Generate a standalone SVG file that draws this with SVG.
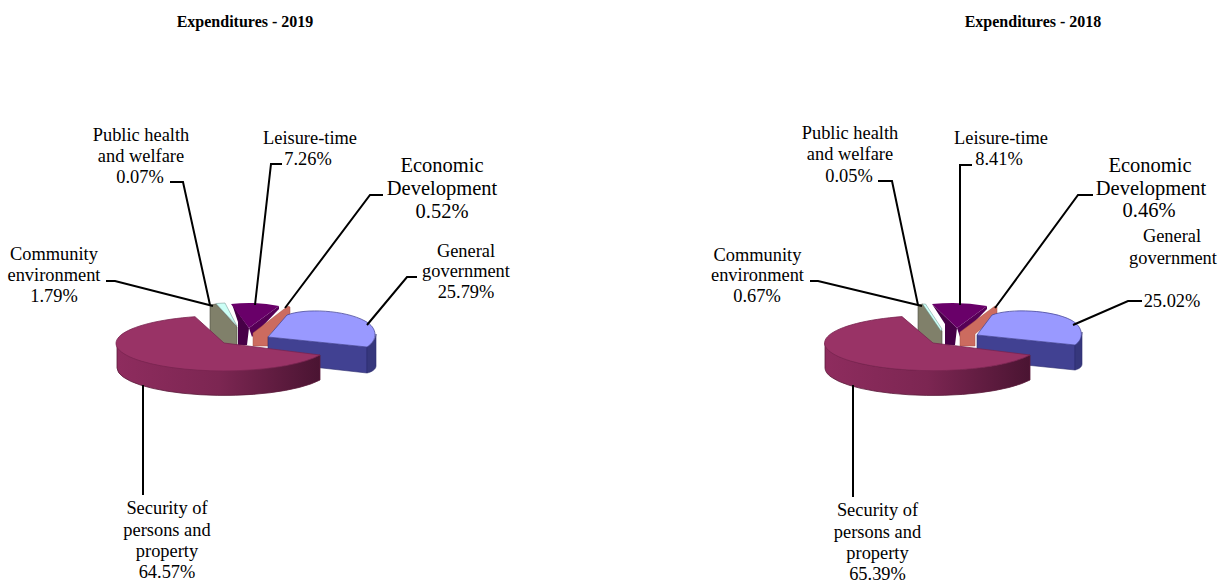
<svg xmlns="http://www.w3.org/2000/svg" width="1230" height="583" viewBox="0 0 1230 583">
<style>
text{font-family:'Liberation Serif','DejaVu Serif',serif;fill:#000;text-anchor:middle}
.t{font-size:16px;font-weight:bold}
.l{font-size:18.4px}
.e{font-size:20.5px}
.ld{fill:none;stroke:#000;stroke-width:2}
.mt{fill:#993366;stroke:#7a2450;stroke-width:0.8}
.ms{fill:url(#mg);stroke:#5a1a3a;stroke-width:0.8}
.bt{fill:#9999ff;stroke:#4a4a9a;stroke-width:0.8}
.bf{fill:#414192;stroke:#2e2e6e;stroke-width:0.6}
.br{fill:#36377c;stroke:#2e2e6e;stroke-width:0.6}
.pt{fill:#690069}
.pl{fill:#470047}
.pr{fill:#560056}
.sa{fill:#cc6b5f;stroke:#a55045;stroke-width:0.5}
.ol{fill:#80806a;stroke:#4c4c40;stroke-width:0.6}
.cy{fill:#ccfff6;stroke:#6a8a86;stroke-width:0.5}
</style>
<defs>
<linearGradient id="mg" x1="0" y1="0" x2="1" y2="0">
<stop offset="0" stop-color="#8e2c5e"/>
<stop offset="0.5" stop-color="#7c2652"/>
<stop offset="1" stop-color="#4a1432"/>
</linearGradient>
</defs>
<g id="titles">
<text class="t" x="245" y="27">Expenditures - 2019</text>
<text class="t" x="1033" y="27">Expenditures - 2018</text>
</g>

<g id="chart-2019">
<g id="s19-community"><path class="ol" d="M210,305 L216,304 L237,327 L237,345 L222,345 L210,337 Z"/></g>
<g id="s19-publichealth"><path class="cy" d="M216,303.5 L225,303 L237,326 Z"/></g>
<g id="s19-leisure">
<path class="pl" d="M232,304 L249,328 L247,345 L238,345 L238,322 Z"/>
<path class="pr" d="M279,306 L279,309 L252,337 L249,328 Z"/>
<path class="pt" d="M231,304 Q255,301 279,306 L249,328 Z"/>
</g>
<g id="s19-economic"><path class="sa" d="M253,333 L288,306 L290,307 L290,316 L268,336 L268,346 L253,346 Z"/></g>
<g id="s19-general">
<path class="bf" d="M268,337 L367,347 L367,373 L268,362 Z"/>
<path class="br" d="M367,347 C372,343 376,339 376,334 L376,366 C376,369 372,372 367,373 Z"/>
<path class="bt" d="M268,337 L287,315 C305,308 345,310 365,321 C378,328 378,340 367,347 Z"/>
</g>
<g id="s19-security">
<path class="ms" d="M320,355 A107,27.6 0 0 1 117,343 L117,368 A107,27.6 0 0 0 320,380 Z"/>
<path class="mt" d="M224,343 L320,355 A107,27.6 0 1 1 195,316.7 Z"/>
</g>
</g>

<g id="chart-2018">
<g id="s18-community"><path class="ol" d="M918,305 L923,304 L942,331 L942,345 L930,345 L918,337 Z"/></g>
<g id="s18-publichealth"><path class="cy" d="M922.5,304 L925.5,304 L942,329 L941,331 Z"/></g>
<g id="s18-leisure">
<path class="pl" d="M932,304 L957,328 L955,345 L945,345 L945,324 Z"/>
<path class="pr" d="M987,306 L987,309 L960,337 L957,328 Z"/>
<path class="pt" d="M932,304 Q960,301 987,306 L957,328 Z"/>
</g>
<g id="s18-economic"><path class="sa" d="M960,332 L995,306 L997,307 L997,316 L975,334 L975,346 L960,346 Z"/></g>
<g id="s18-general">
<path class="bf" d="M977,335 L1075,345 L1075,370 L977,360 Z"/>
<path class="br" d="M1075,345 C1079,341 1082,337 1082,332 L1082,364 C1082,367 1079,369 1075,370 Z"/>
<path class="bt" d="M977,335 L992,315 C1010,308 1052,310 1071,320 C1084,327 1084,339 1075,345 Z"/>
</g>
<g id="s18-security">
<path class="ms" d="M1030,355 A108,27.6 0 0 1 825,343 L825,368 A108,27.6 0 0 0 1030,380 Z"/>
<path class="mt" d="M933,343 L1030,355 A108,27.6 0 1 1 902,316.6 Z"/>
</g>
</g>

<g id="connectors">
<path class="ld" d="M106,281 L115,281 L213,306"/>
<path class="ld" d="M170,182 L183,182 L210,305"/>
<path class="ld" d="M282,164 L271,164 L255,305"/>
<path class="ld" d="M383,195 L370,195 L285,308"/>
<path class="ld" d="M417,277 L407,277 L367,325"/>
<path class="ld" d="M143,385 L143,495"/>
<path class="ld" d="M810,281 L818,281 L922,306"/>
<path class="ld" d="M878,181 L892,181 L918,305"/>
<path class="ld" d="M972,165 L960,165 L960,305"/>
<path class="ld" d="M1093,195 L1078,195 L995,308"/>
<path class="ld" d="M1142,301 L1128,301 L1073,325"/>
<path class="ld" d="M853,385 L853,497"/>
</g>

<g id="labels-2019">
<g id="l19-publichealth"><text class="l" x="141" y="140.5">Public health</text><text class="l" x="141" y="161.5">and welfare</text><text class="l" x="140" y="182.7">0.07%</text></g>
<g id="l19-community"><text class="l" x="54" y="260">Community</text><text class="l" x="54" y="281">environment</text><text class="l" x="54" y="302">1.79%</text></g>
<g id="l19-leisure"><text class="l" x="310" y="144">Leisure-time</text><text class="l" x="308" y="165">7.26%</text></g>
<g id="l19-economic"><text class="e" x="442" y="172">Economic</text><text class="e" x="442" y="195">Development</text><text class="e" x="442" y="218">0.52%</text></g>
<g id="l19-general"><text class="l" x="466" y="256.5">General</text><text class="l" x="466" y="277">government</text><text class="l" x="466" y="297.5">25.79%</text></g>
<g id="l19-security"><text class="l" x="167" y="514">Security of</text><text class="l" x="167" y="535.5">persons and</text><text class="l" x="167" y="557">property</text><text class="l" x="167" y="578">64.57%</text></g>
</g>
<g id="labels-2018">
<g id="l18-publichealth"><text class="l" x="850" y="138.5">Public health</text><text class="l" x="850" y="160">and welfare</text><text class="l" x="849" y="181.5">0.05%</text></g>
<g id="l18-community"><text class="l" x="757.5" y="260.5">Community</text><text class="l" x="757.5" y="281">environment</text><text class="l" x="757" y="301.7">0.67%</text></g>
<g id="l18-leisure"><text class="l" x="1001" y="143.5">Leisure-time</text><text class="l" x="999" y="165">8.41%</text></g>
<g id="l18-economic"><text class="e" x="1150" y="172">Economic</text><text class="e" x="1151" y="195">Development</text><text class="e" x="1149" y="217">0.46%</text></g>
<g id="l18-general"><text class="l" x="1172" y="242">General</text><text class="l" x="1173" y="263.5">government</text><text class="l" x="1172" y="307">25.02%</text></g>
<g id="l18-security"><text class="l" x="877.5" y="516">Security of</text><text class="l" x="877.5" y="537.5">persons and</text><text class="l" x="877.5" y="559">property</text><text class="l" x="877.5" y="580">65.39%</text></g>
</g>
</svg>
